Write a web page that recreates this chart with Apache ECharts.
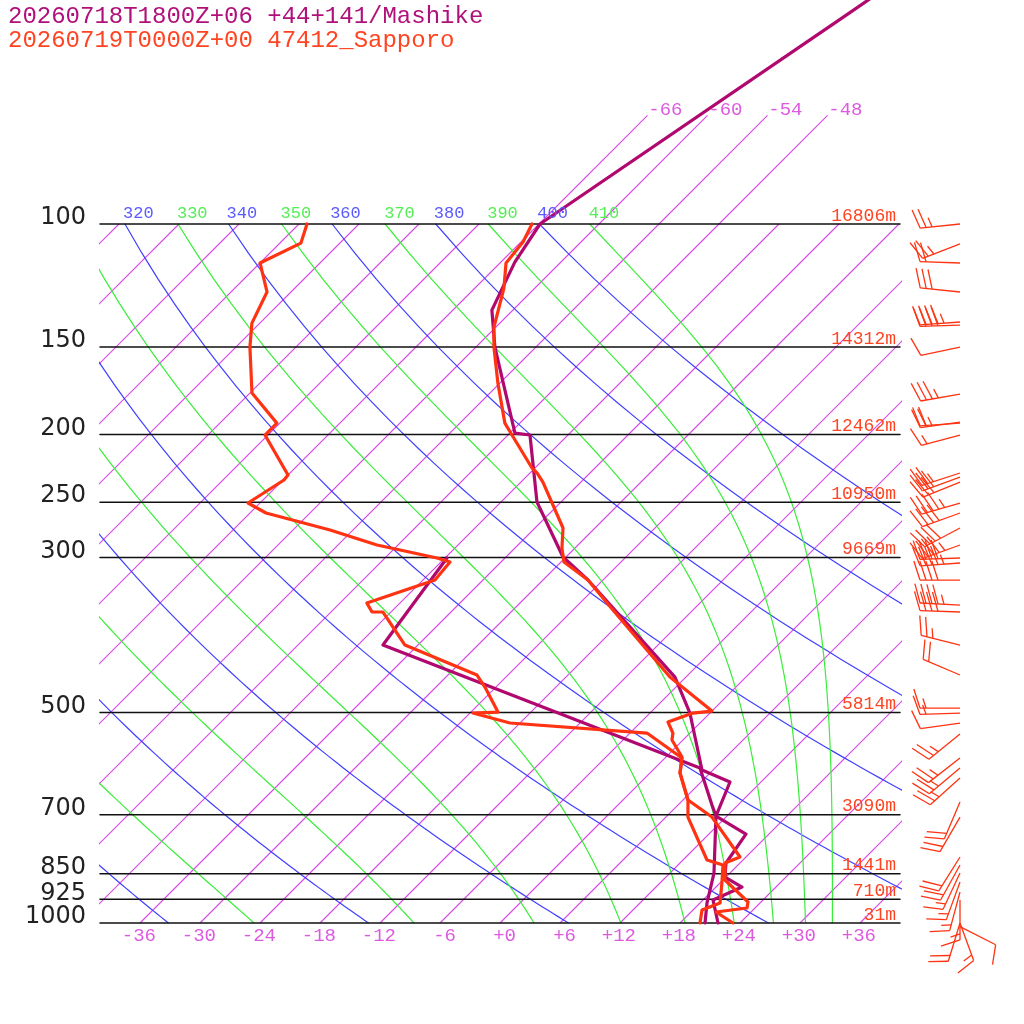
<!DOCTYPE html>
<html>
<head>
<meta charset="utf-8">
<title>Skew-T Mashike / Sapporo</title>
<script src="https://cdn.jsdelivr.net/npm/echarts/dist/echarts.min.js"></script>
<style>
  html, body { margin: 0; padding: 0; background: #fff; }
  #main { width: 1024px; height: 1024px; }
</style>
</head>
<body>
<div id="main"></div>
<script>
// ---- data read from the reference sounding ----
// 1. model (Mashike) temperature / dew point
const modelP = [30, 50, 100, 113.4, 132.8, 150, 199.1, 200.4, 249.9, 299.5, 323.1, 444.8, 500.8, 604.1, 628.5, 703.0, 746.0, 820.7, 859.5, 888.2, 927.0, 1000];
const modelT = [-49.0, -56.1, -65.9, -64.6, -62.1, -58.1, -47.5, -45.8, -38.4, -30.3, -25.5, -7.1, -2.0, 4.9, 8.9, 10.9, 15.7, 16.6, 17.9, 20.6, 19.0, 21.8];
const modelTdP = [300.5, 400.3, 600.2, 678.0, 703.0, 848.2, 936.2, 1000];
const modelTd = [-41.8, -39.5, 4.5, 9.4, 10.9, 16.4, 18.7, 20.5];

// 2. observed (47412 Sapporo) temperature / dew point
const obsP = [100, 106.1, 113.7, 123.5, 140.4, 150, 168.9, 192.7, 200.4, 223.4, 227.1, 234.0, 272.2, 290.8, 304.5, 323.1, 356.7, 444.8, 497.5, 500.8, 515.8, 534.9, 547.3, 578.8, 610.1, 666.9, 705.4, 804.6, 820.7, 868.0, 933.1, 951.8, 964.4, 1000];
const obsT = [-66.7, -65.8, -65.4, -63.1, -60.2, -58.2, -54.2, -49.5, -47.6, -42.3, -41.3, -39.8, -33.2, -31.3, -29.7, -25.5, -20.0, -7.6, 0.0, -1.7, -3.3, -1.7, -1.1, 1.6, 3.0, 6.5, 10.6, 17.4, 16.5, 18.2, 22.7, 23.2, 20.5, 23.3];
const obsTdP = [100, 106.5, 113.7, 125.1, 138.6, 150, 174.5, 192.7, 200.4, 228.6, 232.4, 250.7, 259.1, 266.9, 274.0, 287.9, 300.5, 304.5, 323.1, 348.6, 359.0, 359.0, 400.3, 441.8, 459.7, 499.1, 500.8, 517.5, 534.9, 580.7, 610.1, 666.9, 705.4, 812.6, 826.2, 873.7, 936.2, 958.1, 1000];
const obsTd = [-89.2, -87.9, -90.0, -86.4, -84.8, -82.6, -77.8, -72.3, -72.3, -66.0, -65.9, -67.2, -64.4, -60.1, -56.3, -50.1, -42.8, -41.1, -40.8, -45.3, -43.9, -42.8, -37.3, -27.1, -25.1, -21.3, -23.7, -19.0, -4.3, 1.7, 3.0, 6.5, 8.2, 14.4, 16.5, 18.1, 20.0, 18.9, 20.0];

// 3. observed winds (direction deg, speed kt)
const windP = [100, 106.8, 113.7, 125.1, 138.1, 139.5, 150, 175.1, 192.0, 192.7, 200.4, 227.1, 230.2, 234.0, 250.7, 259.1, 272.2, 287.9, 300.5, 305.5, 323.1, 350.9, 359.0, 400.3, 441.8, 492.6, 500.8, 517.5, 536.6, 580.7, 600.2, 620.3, 671.3, 705.4, 804.6, 826.2, 848.2, 873.7, 902.9, 927, 1000, 1000, 1012];
const windDir = [264, 249, 272, 276, 266, 268, 258, 260, 262, 266, 255, 252, 250, 248, 254, 250, 242, 250, 268, 266, 270, 273, 272, 284, 293, 270, 268, 262, 231, 232, 230, 228, 203, 210, 212, 209, 205, 200, 195, 180, 197, 160, 117];
const windSpd = [25, 25, 20, 30, 45, 40, 10, 35, 25, 20, 15, 25, 30, 30, 45, 40, 40, 45, 40, 45, 40, 45, 40, 25, 20, 15, 15, 10, 25, 25, 25, 25, 20, 20, 20, 20, 15, 15, 15, 15, 20, 15, 10];

// 4. isobars and their heights
const isobarP = [100, 150, 200, 250, 300, 500, 700, 850, 925, 1000];
const heightText = ['16806m', '14312m', '12462m', '10950m', '9669m', '5814m', '3090m', '1441m', '710m', '31m'];

// 5. tick labels
const tempTicks = [-36, -30, -24, -18, -12, -6, 0, 6, 12, 18, 24, 30, 36];
const topIsoT = [-66, -60, -54, -48];
const thetaList = [240, 260, 280, 300, 320, 340, 360, 380, 400];
const thetaLabels = [320, 340, 360, 380, 400];
const thetaEList = [250, 270, 290, 310, 330, 350, 370, 390, 410];
const thetaELabels = [330, 350, 370, 390, 410];

// ---- skew-T helpers ----
const SKEW = 69.9; // degC shift per decade of pressure (45 deg isotherms)
function skewX(t, p) { return t + SKEW * Math.log10(1000 / p); }

// saturated equivalent potential temperature (Bolton 1980)
function thetaE(tk, p) {
  const tc = tk - 273.15;
  const es = 6.112 * Math.exp(17.67 * tc / (tc + 243.5));
  if (es >= 0.5 * p) return 1e6;
  const r = 0.622 * es / (p - es);
  const rg = r * 1000;
  return tk * Math.pow(1000 / p, 0.2854 * (1 - 0.28 * r)) *
    Math.exp((3.376 / tk - 0.00254) * rg * (1 + 0.00081 * rg));
}
function moistT(te, p) {
  let lo = 150, hi = 335;
  for (let k = 0; k < 60; k++) {
    const mid = (lo + hi) / 2;
    if (thetaE(mid, p) > te) hi = mid; else lo = mid;
  }
  return (lo + hi) / 2 - 273.15;
}
function dryT(th, p) { return th * Math.pow(p / 1000, 0.2857) - 273.15; }

const curveP = [];
for (let p = 1000; p >= 100; p -= 10) curveP.push(p);

// ---- colours ----
const ISO_COLOR = '#d848e8';
const ISO_LABEL = '#dd5ae0';
const BLUE = '#4040ff';
const GREEN = '#38ee38';
const PURPLE = '#b0086e';
const RED = '#ff3311';
const MONO = '"Liberation Mono", "DejaVu Sans Mono", monospace';

function lineSeries(pts, color, width, clip, z) {
  return {
    type: 'line', data: pts, showSymbol: false, symbol: 'none', silent: true,
    clip: clip, z: z, animation: false,
    lineStyle: { color: color, width: width, join: 'round', cap: 'round' }
  };
}

function textSeries(pts, texts, o) {
  return {
    type: 'custom', silent: true, clip: false, animation: false, z: o.z || 20,
    data: pts,
    renderItem: function (params, api) {
      const pt = api.coord([api.value(0), api.value(1)]);
      return {
        type: 'text', x: pt[0] + o.dx, y: pt[1] + o.dy,
        style: {
          text: texts[params.dataIndex], fill: o.color,
          fontSize: o.size, fontFamily: o.font,
          align: o.align, verticalAlign: 'middle'
        }
      };
    }
  };
}

let series = [];

// isotherms
for (let t = -108; t <= 36; t += 6) {
  series.push(lineSeries([[skewX(t, 1000), 1000], [skewX(t, 100), 100]], ISO_COLOR, 1.1, true, 1));
}
// isotherms above 100 hPa
topIsoT.forEach(function (t) {
  series.push(lineSeries([[skewX(t, 100), 100], [skewX(t, 70), 70]], ISO_COLOR, 1.1, false, 1));
});
// dry adiabats
thetaList.forEach(function (th) {
  series.push(lineSeries(curveP.map(p => [skewX(dryT(th, p), p), p]), BLUE, 1.2, true, 2));
});
// pseudo adiabats
thetaEList.forEach(function (te) {
  series.push(lineSeries(curveP.map(p => [skewX(moistT(te, p), p), p]), GREEN, 1.2, true, 2));
});
// isobars
isobarP.forEach(function (p) {
  series.push(lineSeries([[-40, p], [40, p]], '#111', 1.5, false, 3));
});

// labels
series.push(textSeries(isobarP.map(p => [-40, p]), isobarP.map(String),
  { dx: -14, dy: -6, color: '#222', size: 24, font: '"DejaVu Sans", sans-serif', align: 'right' }));
series.push(textSeries(isobarP.map(p => [40, p]), heightText,
  { dx: -4, dy: -8, color: '#ff4422', size: 18, font: MONO, align: 'right' }));
series.push(textSeries(tempTicks.map(t => [t, 1000]), tempTicks.map(t => (t >= 0 ? '+' : '') + t),
  { dx: 16, dy: 13, color: ISO_LABEL, size: 19, font: MONO, align: 'right' }));
series.push(textSeries(topIsoT.map(t => [skewX(t, 70), 70]), topIsoT.map(String),
  { dx: 1, dy: -6, color: ISO_LABEL, size: 19, font: MONO, align: 'left' }));
series.push(textSeries(thetaLabels.map(th => [skewX(dryT(th, 100), 100), 100]), thetaLabels.map(String),
  { dx: -2, dy: -11, color: '#5a5aff', size: 17, font: MONO, align: 'left' }));
series.push(textSeries(thetaELabels.map(te => [skewX(moistT(te, 100), 100), 100]), thetaELabels.map(String),
  { dx: -1, dy: -11, color: '#55ee55', size: 17, font: MONO, align: 'left' }));

// soundings
series.push(lineSeries(modelTdP.map((p, i) => [skewX(modelTd[i], p), p]), PURPLE, 3.2, false, 10));
series.push(lineSeries(modelP.map((p, i) => [skewX(modelT[i], p), p]), PURPLE, 3.2, false, 10));
series.push(lineSeries(obsTdP.map((p, i) => [skewX(obsTd[i], p), p]), RED, 3.2, false, 11));
series.push(lineSeries(obsP.map((p, i) => [skewX(obsT[i], p), p]), RED, 3.2, false, 11));

// wind barbs
const STAFF = 40, FEATHER = 20, GAP = 6, TILT = 18 * Math.PI / 180;
series.push({
  type: 'custom', silent: true, clip: false, animation: false, z: 12,
  data: windP.map(p => [46, p]),
  renderItem: function (params, api) {
    const i = params.dataIndex;
    const base = api.coord([api.value(0), api.value(1)]);
    const a = windDir[i] * Math.PI / 180;
    const dx = Math.sin(a), dy = -Math.cos(a);
    const nx = -dy, ny = dx;
    const fx = nx * Math.cos(TILT) + dx * Math.sin(TILT);
    const fy = ny * Math.cos(TILT) + dy * Math.sin(TILT);
    const tx = base[0] + STAFF * dx, ty = base[1] + STAFF * dy;
    const st = { stroke: RED, lineWidth: 1.3 };
    const kids = [{ type: 'line', shape: { x1: base[0], y1: base[1], x2: tx, y2: ty }, style: st }];
    const full = Math.floor(windSpd[i] / 10);
    const half = windSpd[i] % 10 >= 5;
    let k = 0;
    for (let j = 0; j < full; j++, k++) {
      const sx = tx - dx * GAP * k, sy = ty - dy * GAP * k;
      kids.push({ type: 'line', shape: { x1: sx, y1: sy, x2: sx + fx * FEATHER, y2: sy + fy * FEATHER }, style: st });
    }
    if (half) {
      if (full === 0) k = 1;
      const sx = tx - dx * GAP * k, sy = ty - dy * GAP * k;
      kids.push({ type: 'line', shape: { x1: sx, y1: sy, x2: sx + fx * FEATHER / 2, y2: sy + fy * FEATHER / 2 }, style: st });
    }
    return { type: 'group', children: kids };
  }
});

let myChart = echarts.init(document.getElementById('main'));
let option = {
  animation: false,
  backgroundColor: '#fff',
  grid: { left: 100, top: 224, width: 800, height: 699 },
  xAxis: { type: 'value', min: -40, max: 40, show: false },
  yAxis: { type: 'log', logBase: 10, min: 100, max: 1000, inverse: true, show: false },
  graphic: [
    { type: 'text', left: 8, top: 5, style: { text: '20260718T1800Z+06 +44+141/Mashike', fill: '#b0107a', font: '24px ' + MONO } },
    { type: 'text', left: 8, top: 29, style: { text: '20260719T0000Z+00 47412_Sapporo', fill: '#ff4422', font: '24px ' + MONO } }
  ],
  series: series
};
myChart.setOption(option);
</script>
</body>
</html>
